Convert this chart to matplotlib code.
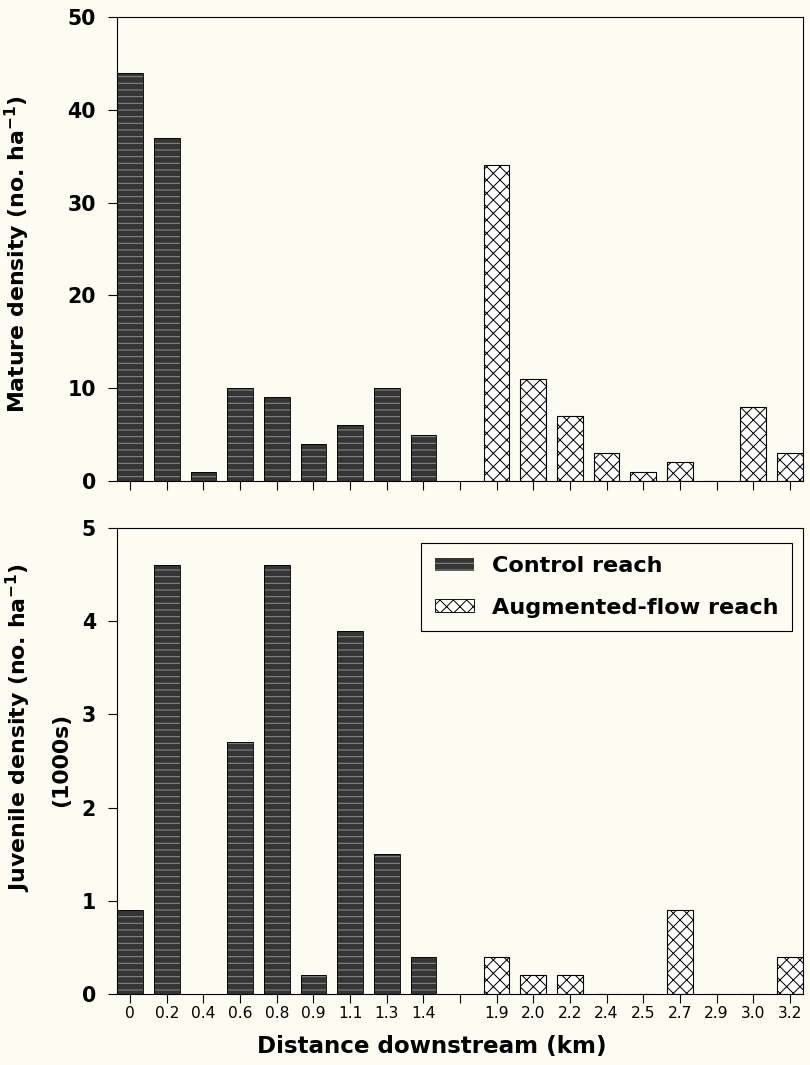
import matplotlib
matplotlib.use("Agg")
import matplotlib.pyplot as plt
from matplotlib.patches import Patch
import numpy as np

# distances downstream (km); the empty label is the gap between the reaches
control_km = ['0', '0.2', '0.4', '0.6', '0.8', '0.9', '1.1', '1.3', '1.4']
augmented_km = ['1.9', '2.0', '2.2', '2.4', '2.5', '2.7', '2.9', '3.0', '3.2']

mature_control = [44, 37, 1, 10, 9, 4, 6, 10, 5]
mature_augmented = [34, 11, 7, 3, 1, 2, 0, 8, 3]

juvenile_control = [0.9, 4.6, 0, 2.7, 4.6, 0.2, 3.9, 1.5, 0.4]
juvenile_augmented = [0.4, 0.2, 0.2, 0, 0, 0.9, 0, 0, 0.4]

tick_labels = control_km + [''] + augmented_km
x_ctrl = np.arange(len(control_km))
x_aug = np.arange(len(augmented_km)) + len(control_km) + 1

bg = '#fdfcf3'
dark = '#353535'
streak = '#8c8c8c'
width = 0.7

plt.rcParams['font.family'] = ['DejaVu Sans']
plt.rcParams['hatch.linewidth'] = 0.9

DPI = 80
fig = plt.figure(figsize=(810 / DPI, 1065 / DPI), dpi=DPI, facecolor=bg)

ax1 = fig.add_axes([117 / 810, 1 - 481 / 1065, 686 / 810, 464 / 1065])
ax2 = fig.add_axes([117 / 810, 1 - 994 / 1065, 686 / 810, 466 / 1065])


def draw_bars(ax, ctrl, aug):
    ax.set_facecolor(bg)
    # control: dark fill with light horizontal streaks
    ax.bar(x_ctrl, ctrl, width, color=dark, hatch='--', edgecolor=streak, linewidth=0)
    ax.bar(x_ctrl, ctrl, width, fill=False, edgecolor='black', linewidth=0.8)
    ax.bar(x_aug, aug, width, color='white', hatch='xx', edgecolor='black', linewidth=1.0)
    ax.set_xlim(-0.36, 18.36)
    ax.set_xticks(np.arange(len(tick_labels)))
    ax.tick_params(axis='both', direction='out', length=8, width=1.0, color='black')
    ax.tick_params(axis='y', pad=11)
    for s in ax.spines.values():
        s.set_linewidth(1.0)


draw_bars(ax1, mature_control, mature_augmented)
ax1.set_ylim(0, 50)
ax1.set_yticks([0, 10, 20, 30, 40, 50])
ax1.set_xticklabels([])
for t in ax1.get_yticklabels():
    t.set_fontsize(18.5)
    t.set_fontweight('bold')

draw_bars(ax2, juvenile_control, juvenile_augmented)
ax2.set_ylim(0, 5)
ax2.set_yticks([0, 1, 2, 3, 4, 5])
ax2.set_xticklabels(tick_labels, fontsize=14)
ax2.tick_params(axis='x', pad=3)
for t in ax2.get_yticklabels():
    t.set_fontsize(18.5)
    t.set_fontweight('bold')

ax2.set_xlabel('Distance downstream (km)', fontsize=20.7, fontweight='bold', labelpad=12)
ax2.xaxis.label.set_x((432 - 117) / 686)

fig.text(17 / 810, 1 - 254 / 1065, 'Mature density (no. ha$^{\\mathbf{-1}}$)',
         rotation=90, ha='center', va='center', fontsize=19.8, fontweight='bold')
fig.text(18 / 810, 1 - 727 / 1065, 'Juvenile density (no. ha$^{\\mathbf{-1}}$)',
         rotation=90, ha='center', va='center', fontsize=19.8, fontweight='bold')
fig.text(61 / 810, 1 - 760 / 1065, '(1000s)',
         rotation=90, ha='center', va='center', fontsize=19.8, fontweight='bold')

handles = [Patch(facecolor=dark, edgecolor=streak, hatch='--', linewidth=0),
           Patch(facecolor='white', edgecolor='black', hatch='xx', linewidth=0.8)]
leg = ax2.legend(handles, ['Control reach', 'Augmented-flow reach'],
                 loc='upper right', bbox_to_anchor=(0.984, 0.968), borderaxespad=0,
                 prop={'weight': 'bold', 'size': 20.2}, frameon=True, fancybox=False,
                 edgecolor='black', facecolor=bg, framealpha=1,
                 handlelength=1.75, handleheight=0.53, handletextpad=0.8,
                 labelspacing=0.95, borderpad=0.6)
leg.get_frame().set_linewidth(1.0)

fig.savefig('out.png', dpi=DPI, facecolor=bg)
